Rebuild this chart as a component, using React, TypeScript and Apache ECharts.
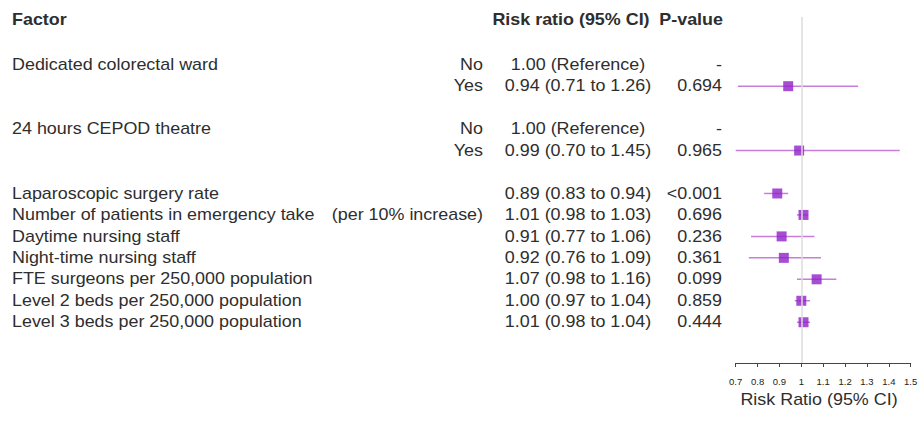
import { useEffect, useRef } from "react";
import * as echarts from "echarts";

// ---- data ----
const rowIndex = [0, 1, 3, 4, 6, 7, 8, 9, 10, 11, 12];
const factorLabels = [
  "Dedicated colorectal ward",
  "",
  "24 hours CEPOD theatre",
  "",
  "Laparoscopic surgery rate",
  "Number of patients in emergency take",
  "Daytime nursing staff",
  "Night-time nursing staff",
  "FTE surgeons per 250,000 population",
  "Level 2 beds per 250,000 population",
  "Level 3 beds per 250,000 population",
];
const subLabels = ["No", "Yes", "No", "Yes", "", "(per 10% increase)", "", "", "", "", ""];
const isReference = [true, false, true, false, false, false, false, false, false, false, false];
const riskRatio = [1.0, 0.94, 1.0, 0.99, 0.89, 1.01, 0.91, 0.92, 1.07, 1.0, 1.01];
const ciLow = [null, 0.71, null, 0.7, 0.83, 0.98, 0.77, 0.76, 0.98, 0.97, 0.98];
const ciHigh = [null, 1.26, null, 1.45, 0.94, 1.03, 1.06, 1.09, 1.16, 1.04, 1.04];
const pValues = ["-", "0.694", "-", "0.965", "<0.001", "0.696", "0.236", "0.361", "0.099", "0.859", "0.444"];
const headers = ["Factor", "Risk ratio (95% CI)", "P-value"];
const axisTitle = "Risk Ratio (95% CI)";
const xMin = 0.7;
const xMax = 1.5;
const xStep = 0.1;

const FONT = "'Liberation Sans', Arial, Helvetica, sans-serif";
const TEXT_COLOR = "#2e2e2e";
const SX = 1.12;

export default function App() {
  const ref = useRef<HTMLDivElement>(null);

  useEffect(() => {
    const chart = echarts.init(ref.current!, null, { renderer: "svg" });

    const points: any[] = [];
    const whiskers: any[] = [];
    riskRatio.forEach((v, i) => {
      if (isReference[i]) return;
      points.push([v, rowIndex[i]]);
      whiskers.push([ciLow[i], ciHigh[i], rowIndex[i]]);
    });

    chart.setOption({
      animation: false,
      grid: { left: 735.7, right: 10.3, top: 17, bottom: 60, containLabel: false },
      xAxis: {
        type: "value",
        min: xMin,
        max: xMax,
        interval: xStep,
        position: "bottom",
        splitLine: { show: false },
        axisLine: { show: true, onZero: false, lineStyle: { color: "#444", width: 1 } },
        axisTick: { show: true, length: 4, lineStyle: { color: "#444", width: 1 } },
        axisLabel: {
          fontSize: 9.5,
          color: "#222",
          margin: 13,
          fontFamily: FONT,
        },
      },
      yAxis: {
        type: "value",
        inverse: true,
        min: -2.224,
        max: 13.9,
        show: false,
        splitLine: { show: false },
      },
      series: [
        {
          type: "scatter",
          data: [],
          z: 1,
          markLine: {
            silent: true,
            symbol: "none",
            label: { show: false },
            lineStyle: { color: "#dcdcdc", width: 1.5, type: "solid" },
            data: [{ xAxis: 1 }],
          },
        },
        {
          type: "custom",
          z: 2,
          data: whiskers,
          encode: { x: [0, 1], y: 2 },
          renderItem: (params: any, api: any) => {
            const a = api.coord([api.value(0), api.value(2)]);
            const b = api.coord([api.value(1), api.value(2)]);
            return {
              type: "line",
              shape: { x1: a[0], y1: a[1], x2: b[0], y2: b[1] },
              style: { stroke: "#c97ddb", lineWidth: 1.5 },
            };
          },
        },
        {
          type: "scatter",
          z: 3,
          symbol: "rect",
          symbolSize: 10,
          itemStyle: { color: "#9022c8" },
          data: points,
        },
      ],
    });

    const yOf = (row: number) => chart.convertToPixel({ gridIndex: 0 }, [1, row])[1];
    const txt = (text: string, x: number, y: number, align: string, bold = false) => ({
      type: "text",
      x,
      y,
      scaleX: SX,
      silent: true,
      style: {
        text,
        fill: TEXT_COLOR,
        font: `${bold ? "bold " : ""}16px ${FONT}`,
        align,
        verticalAlign: "middle",
      },
    });

    const headerY = yOf(-2.085);
    const g: any[] = [
      txt(headers[0], 12, headerY, "left", true),
      txt(headers[1], 571, headerY, "center", true),
      txt(headers[2], 723, headerY, "right", true),
    ];
    rowIndex.forEach((r, i) => {
      const y = yOf(r);
      if (factorLabels[i]) g.push(txt(factorLabels[i], 12, y, "left"));
      if (subLabels[i]) g.push(txt(subLabels[i], 483, y, "right"));
      const rrText = isReference[i]
        ? `${riskRatio[i].toFixed(2)} (Reference)`
        : `${riskRatio[i].toFixed(2)} (${(ciLow[i] as number).toFixed(2)} to ${(ciHigh[i] as number).toFixed(2)})`;
      g.push(txt(rrText, 578, y, "center"));
      g.push(txt(pValues[i], 722, y, "right"));
    });
    g.push(txt(axisTitle, 819, 400, "center"));

    chart.setOption({ graphic: g });

    return () => chart.dispose();
  }, []);

  return (
    <div
      ref={ref}
      style={{ position: "absolute", left: 0, top: 0, width: 921, height: 423, background: "#fff" }}
    />
  );
}
